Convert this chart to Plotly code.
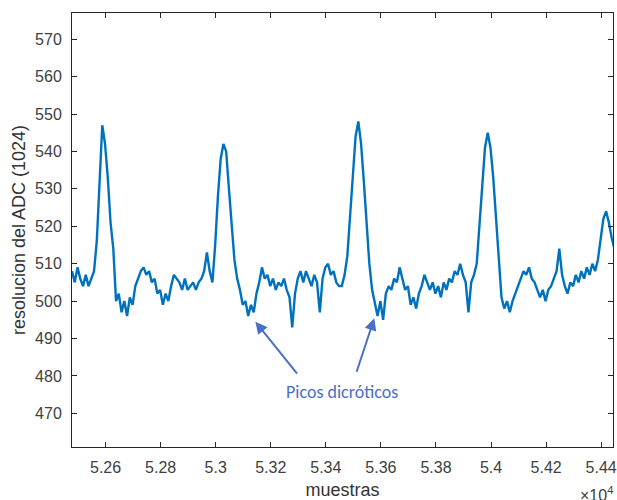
import plotly.graph_objects as go
import numpy as np

# --- data ---
sample_start = 52478      # first sample shown
sample_step = 10          # spacing between read-off values (samples)
adc_values = [
    508, 505, 509, 506, 504, 507, 504, 506, 508, 516,
    530, 547, 542, 533, 521, 514, 500, 502, 497, 500,
    496, 501, 499, 504, 506, 508, 509, 507, 508, 505,
    506, 502, 503, 499, 502, 500, 504, 507, 506, 505,
    503, 506, 503, 504, 505, 503, 505, 506, 508, 513,
    508, 505, 515, 528, 538, 542, 540, 530, 520, 511,
    506, 503, 499, 500, 496, 499, 497, 502, 505, 509,
    506, 507, 504, 506, 503, 505, 504, 506, 503, 501,
    493, 502, 506, 508, 505, 508, 506, 504, 507, 505,
    497, 506, 509, 510, 507, 508, 505, 504, 504, 507,
    512, 522, 534, 544, 548, 542, 532, 520, 510, 503,
    499, 496, 500, 495, 502, 504, 503, 506, 505, 509,
    506, 503, 504, 499, 501, 498, 502, 504, 507, 505,
    503, 505, 502, 504, 501, 505, 503, 506, 505, 508,
    507, 510, 507, 505, 497, 505, 507, 510, 520, 532,
    541, 545, 541, 533, 522, 511, 501, 498, 500, 497,
    500, 502, 504, 506, 508, 507, 509, 506, 505, 503,
    501, 503, 500, 503, 504, 506, 508, 514, 507, 504,
    502, 505, 504, 507, 505, 508, 506, 509, 507, 510,
    508, 511, 516, 522, 524, 521, 517, 514,
]
x_tick_vals = [52600, 52800, 53000, 53200, 53400, 53600, 53800, 54000, 54200, 54400]
x_tick_text = ["5.26", "5.28", "5.3", "5.32", "5.34", "5.36", "5.38", "5.4", "5.42", "5.44"]
y_tick_vals = [470, 480, 490, 500, 510, 520, 530, 540, 550, 560, 570]
note_text = "Picos dicróticos"
note_heads = [(53144, 494.5), (53576, 495.4)]
note_tails = [(53300, 480.2), (53510, 480.7)]
note_pos = (53460, 475.7)

samples = sample_start + sample_step * np.arange(len(adc_values))

fig = go.Figure()
fig.add_trace(go.Scatter(
    x=samples, y=adc_values, mode="lines",
    line=dict(color="#0072BD", width=2.4),
    showlegend=False, hoverinfo="skip",
))

arrow_col = "#4A6FC7"
for (hx, hy), (tx, ty) in zip(note_heads, note_tails):
    fig.add_annotation(
        x=hx, y=hy, ax=tx, ay=ty, xref="x", yref="y", axref="x", ayref="y",
        text="", showarrow=True, arrowhead=2, arrowsize=1.2, arrowwidth=2,
        arrowcolor=arrow_col,
    )
fig.add_annotation(
    x=note_pos[0], y=note_pos[1], xref="x", yref="y", text=note_text,
    showarrow=False, font=dict(family="Carlito, Liberation Sans, sans-serif", size=18, color="#4A6FC7"),
)
fig.add_annotation(
    x=0.9358, y=-0.108, xref="paper", yref="paper", xanchor="left", yanchor="middle",
    text="×10<sup>4</sup>", showarrow=False,
    font=dict(family="Liberation Sans, Arial, sans-serif", size=16, color="#404040"),
)

axis_font = dict(family="Liberation Sans, Arial, sans-serif", size=16, color="#404040")
fig.update_xaxes(
    range=[52478, 54443], tickvals=x_tick_vals, ticktext=x_tick_text,
    ticks="inside", ticklen=5, tickcolor="#262626", tickwidth=1,
    showline=True, linecolor="#262626", linewidth=1, mirror="ticks",
    showgrid=False, zeroline=False, tickfont=axis_font, ticklabelstandoff=6,
    ticklabeloverflow="allow",
    title=dict(text="muestras", font=dict(family="Liberation Sans, Arial, sans-serif", size=18, color="#333333"), standoff=8),
)
fig.update_yaxes(
    range=[461, 577], tickvals=y_tick_vals,
    ticks="inside", ticklen=5, tickcolor="#262626", tickwidth=1,
    showline=True, linecolor="#262626", linewidth=1, mirror="ticks",
    showgrid=False, zeroline=False, tickfont=axis_font, ticklabelstandoff=6,
    title=dict(text="resolucion del ADC (1024)", font=dict(family="Liberation Sans, Arial, sans-serif", size=18, color="#333333"), standoff=4),
)
fig.update_layout(
    width=617, height=500,
    margin=dict(l=72, r=0, t=13, b=53),
    paper_bgcolor="white", plot_bgcolor="white",
)
fig.write_html("out.html")
